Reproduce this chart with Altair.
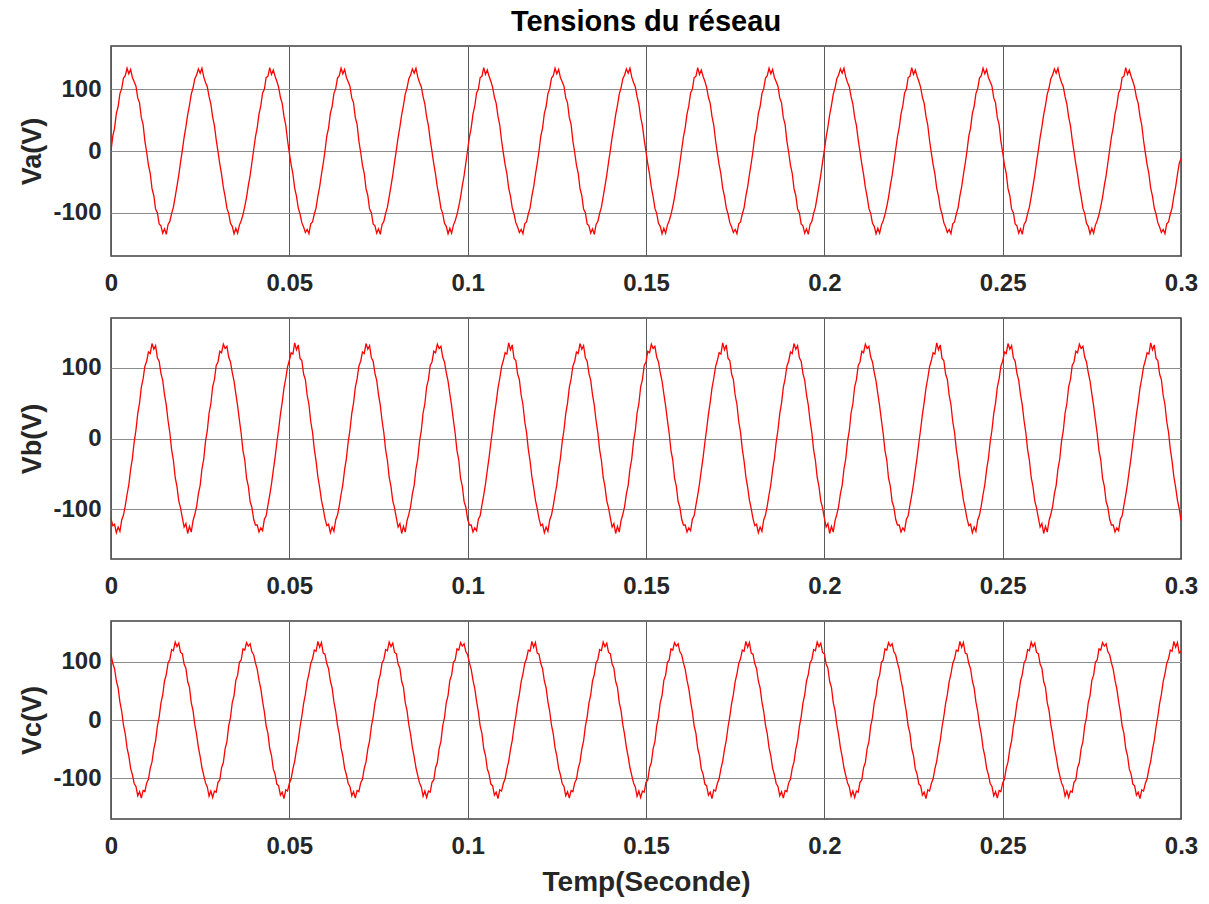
import altair as alt
import pandas as pd

va = [
    0, 24, 37, 61, 72, 93, 101, 118, 122, 134, 125, 132, 119, 112, 105, 86, 78, 54, 43, 16, -2, -23, -36, -61, -72, -94, -100, -118, -121, -133, -126, -135, -119, -114, -101, -91, -74, -57, -39, -18,
    1, 22, 39, 59, 74, 92, 102, 117, 123, 133, 126, 134, 120, 111, 104, 88, 76, 55, 41, 18, -1, -21, -38, -59, -74, -93, -101, -117, -122, -134, -125, -133, -120, -113, -103, -90, -75, -56, -40, -19,
    2, 23, 38, 60, 73, 94, 100, 119, 121, 135, 124, 131, 121, 113, 103, 87, 77, 56, 42, 17, -3, -22, -37, -60, -73, -92, -102, -116, -123, -132, -127, -134, -118, -115, -102, -92, -73, -58, -38, -20,
    0, 24, 37, 61, 72, 93, 101, 118, 122, 134, 125, 132, 119, 112, 105, 86, 78, 54, 43, 16, -2, -23, -36, -61, -72, -94, -100, -118, -121, -133, -126, -135, -119, -114, -101, -91, -74, -57, -39, -18,
    1, 22, 39, 59, 74, 92, 102, 117, 123, 133, 126, 134, 120, 111, 104, 88, 76, 55, 41, 18, -1, -21, -38, -59, -74, -93, -101, -117, -122, -134, -125, -133, -120, -113, -103, -90, -75, -56, -40, -19,
    2, 23, 38, 60, 73, 94, 100, 119, 121, 135, 124, 131, 121, 113, 103, 87, 77, 56, 42, 17, -3, -22, -37, -60, -73, -92, -102, -116, -123, -132, -127, -134, -118, -115, -102, -92, -73, -58, -38, -20,
    0, 24, 37, 61, 72, 93, 101, 118, 122, 134, 125, 132, 119, 112, 105, 86, 78, 54, 43, 16, -2, -23, -36, -61, -72, -94, -100, -118, -121, -133, -126, -135, -119, -114, -101, -91, -74, -57, -39, -18,
    1, 22, 39, 59, 74, 92, 102, 117, 123, 133, 126, 134, 120, 111, 104, 88, 76, 55, 41, 18, -1, -21, -38, -59, -74, -93, -101, -117, -122, -134, -125, -133, -120, -113, -103, -90, -75, -56, -40, -19,
    2, 23, 38, 60, 73, 94, 100, 119, 121, 135, 124, 131, 121, 113, 103, 87, 77, 56, 42, 17, -3, -22, -37, -60, -73, -92, -102, -116, -123, -132, -127, -134, -118, -115, -102, -92, -73, -58, -38, -20,
    0, 24, 37, 61, 72, 93, 101, 118, 122, 134, 125, 132, 119, 112, 105, 86, 78, 54, 43, 16, -2, -23, -36, -61, -72, -94, -100, -118, -121, -133, -126, -135, -119, -114, -101, -91, -74, -57, -39, -18,
    1, 22, 39, 59, 74, 92, 102, 117, 123, 133, 126, 134, 120, 111, 104, 88, 76, 55, 41, 18, -1, -21, -38, -59, -74, -93, -101, -117, -122, -134, -125, -133, -120, -113, -103, -90, -75, -56, -40, -19,
    2, 23, 38, 60, 73, 94, 100, 119, 121, 135, 124, 131, 121, 113, 103, 87, 77, 56, 42, 17, -3, -22, -37, -60, -73, -92, -102, -116, -123, -132, -127, -134, -118, -115, -102, -92, -73, -58, -38, -20,
    0, 24, 37, 61, 72, 93, 101, 118, 122, 134, 125, 132, 119, 112, 105, 86, 78, 54, 43, 16, -2, -23, -36, -61, -72, -94, -100, -118, -121, -133, -126, -135, -119, -114, -101, -91, -74, -57, -39, -18,
    1, 22, 39, 59, 74, 92, 102, 117, 123, 133, 126, 134, 120, 111, 104, 88, 76, 55, 41, 18, -1, -21, -38, -59, -74, -93, -101, -117, -122, -134, -125, -133, -120, -113, -103, -90, -75, -56, -40, -19,
    2, 23, 38, 60, 73, 94, 100, 119, 121, 135, 124, 131, 121, 113, 103, 87, 77, 56, 42, 17, -3, -22, -37, -60, -73, -92, -102, -116, -123, -132, -127, -134, -118, -115, -102, -92, -73, -58, -38, -20,
    -12,
]

vb = [
    -113, -123, -121, -133, -125, -131, -115, -108, -95, -79, -65, -44, -28, -5, 12, 35, 50, 72, 84, 102, 109, 122, 120, 134, 126, 131, 114, 109, 92, 82, 62, 47, 25, 8, -16, -31, -55, -68, -88, -98,
    -112, -125, -120, -134, -124, -132, -116, -107, -96, -78, -66, -43, -29, -4, 11, 36, 49, 73, 83, 103, 108, 123, 121, 133, 127, 130, 115, 108, 93, 81, 63, 46, 26, 7, -17, -30, -56, -67, -89, -97,
    -114, -122, -122, -132, -126, -130, -114, -109, -94, -80, -64, -45, -27, -6, 13, 34, 51, 71, 85, 101, 110, 121, 119, 135, 125, 132, 113, 110, 91, 83, 61, 48, 24, 9, -15, -32, -54, -69, -87, -99,
    -113, -123, -121, -133, -125, -131, -115, -108, -95, -79, -65, -44, -28, -5, 12, 35, 50, 72, 84, 102, 109, 122, 120, 134, 126, 131, 114, 109, 92, 82, 62, 47, 25, 8, -16, -31, -55, -68, -88, -98,
    -112, -125, -120, -134, -124, -132, -116, -107, -96, -78, -66, -43, -29, -4, 11, 36, 49, 73, 83, 103, 108, 123, 121, 133, 127, 130, 115, 108, 93, 81, 63, 46, 26, 7, -17, -30, -56, -67, -89, -97,
    -114, -122, -122, -132, -126, -130, -114, -109, -94, -80, -64, -45, -27, -6, 13, 34, 51, 71, 85, 101, 110, 121, 119, 135, 125, 132, 113, 110, 91, 83, 61, 48, 24, 9, -15, -32, -54, -69, -87, -99,
    -113, -123, -121, -133, -125, -131, -115, -108, -95, -79, -65, -44, -28, -5, 12, 35, 50, 72, 84, 102, 109, 122, 120, 134, 126, 131, 114, 109, 92, 82, 62, 47, 25, 8, -16, -31, -55, -68, -88, -98,
    -112, -125, -120, -134, -124, -132, -116, -107, -96, -78, -66, -43, -29, -4, 11, 36, 49, 73, 83, 103, 108, 123, 121, 133, 127, 130, 115, 108, 93, 81, 63, 46, 26, 7, -17, -30, -56, -67, -89, -97,
    -114, -122, -122, -132, -126, -130, -114, -109, -94, -80, -64, -45, -27, -6, 13, 34, 51, 71, 85, 101, 110, 121, 119, 135, 125, 132, 113, 110, 91, 83, 61, 48, 24, 9, -15, -32, -54, -69, -87, -99,
    -113, -123, -121, -133, -125, -131, -115, -108, -95, -79, -65, -44, -28, -5, 12, 35, 50, 72, 84, 102, 109, 122, 120, 134, 126, 131, 114, 109, 92, 82, 62, 47, 25, 8, -16, -31, -55, -68, -88, -98,
    -112, -125, -120, -134, -124, -132, -116, -107, -96, -78, -66, -43, -29, -4, 11, 36, 49, 73, 83, 103, 108, 123, 121, 133, 127, 130, 115, 108, 93, 81, 63, 46, 26, 7, -17, -30, -56, -67, -89, -97,
    -114, -122, -122, -132, -126, -130, -114, -109, -94, -80, -64, -45, -27, -6, 13, 34, 51, 71, 85, 101, 110, 121, 119, 135, 125, 132, 113, 110, 91, 83, 61, 48, 24, 9, -15, -32, -54, -69, -87, -99,
    -113, -123, -121, -133, -125, -131, -115, -108, -95, -79, -65, -44, -28, -5, 12, 35, 50, 72, 84, 102, 109, 122, 120, 134, 126, 131, 114, 109, 92, 82, 62, 47, 25, 8, -16, -31, -55, -68, -88, -98,
    -112, -125, -120, -134, -124, -132, -116, -107, -96, -78, -66, -43, -29, -4, 11, 36, 49, 73, 83, 103, 108, 123, 121, 133, 127, 130, 115, 108, 93, 81, 63, 46, 26, 7, -17, -30, -56, -67, -89, -97,
    -114, -122, -122, -132, -126, -130, -114, -109, -94, -80, -64, -45, -27, -6, 13, 34, 51, 71, 85, 101, 110, 121, 119, 135, 125, 132, 113, 110, 91, 83, 61, 48, 24, 9, -15, -32, -54, -69, -87, -99,
    -116,
]

vc = [
    113, 97, 88, 67, 55, 31, 15, -9, -24, -48, -62, -83, -94, -109, -114, -130, -123, -134, -121, -123, -108, -102, -83, -72, -50, -36, -11, 5, 29, 43, 67, 78, 98, 104, 121, 119, 134, 126, 132, 116,
    114, 96, 89, 66, 56, 30, 16, -8, -25, -47, -63, -82, -95, -108, -115, -131, -122, -133, -122, -124, -107, -103, -82, -73, -49, -37, -10, 4, 30, 42, 68, 77, 99, 103, 122, 120, 133, 127, 131, 117,
    112, 98, 87, 68, 54, 32, 14, -10, -23, -49, -61, -84, -93, -110, -113, -129, -124, -135, -120, -122, -109, -101, -84, -71, -51, -35, -12, 6, 28, 44, 66, 79, 97, 105, 120, 118, 135, 125, 133, 115,
    113, 97, 88, 67, 55, 31, 15, -9, -24, -48, -62, -83, -94, -109, -114, -130, -123, -134, -121, -123, -108, -102, -83, -72, -50, -36, -11, 5, 29, 43, 67, 78, 98, 104, 121, 119, 134, 126, 132, 116,
    114, 96, 89, 66, 56, 30, 16, -8, -25, -47, -63, -82, -95, -108, -115, -131, -122, -133, -122, -124, -107, -103, -82, -73, -49, -37, -10, 4, 30, 42, 68, 77, 99, 103, 122, 120, 133, 127, 131, 117,
    112, 98, 87, 68, 54, 32, 14, -10, -23, -49, -61, -84, -93, -110, -113, -129, -124, -135, -120, -122, -109, -101, -84, -71, -51, -35, -12, 6, 28, 44, 66, 79, 97, 105, 120, 118, 135, 125, 133, 115,
    113, 97, 88, 67, 55, 31, 15, -9, -24, -48, -62, -83, -94, -109, -114, -130, -123, -134, -121, -123, -108, -102, -83, -72, -50, -36, -11, 5, 29, 43, 67, 78, 98, 104, 121, 119, 134, 126, 132, 116,
    114, 96, 89, 66, 56, 30, 16, -8, -25, -47, -63, -82, -95, -108, -115, -131, -122, -133, -122, -124, -107, -103, -82, -73, -49, -37, -10, 4, 30, 42, 68, 77, 99, 103, 122, 120, 133, 127, 131, 117,
    112, 98, 87, 68, 54, 32, 14, -10, -23, -49, -61, -84, -93, -110, -113, -129, -124, -135, -120, -122, -109, -101, -84, -71, -51, -35, -12, 6, 28, 44, 66, 79, 97, 105, 120, 118, 135, 125, 133, 115,
    113, 97, 88, 67, 55, 31, 15, -9, -24, -48, -62, -83, -94, -109, -114, -130, -123, -134, -121, -123, -108, -102, -83, -72, -50, -36, -11, 5, 29, 43, 67, 78, 98, 104, 121, 119, 134, 126, 132, 116,
    114, 96, 89, 66, 56, 30, 16, -8, -25, -47, -63, -82, -95, -108, -115, -131, -122, -133, -122, -124, -107, -103, -82, -73, -49, -37, -10, 4, 30, 42, 68, 77, 99, 103, 122, 120, 133, 127, 131, 117,
    112, 98, 87, 68, 54, 32, 14, -10, -23, -49, -61, -84, -93, -110, -113, -129, -124, -135, -120, -122, -109, -101, -84, -71, -51, -35, -12, 6, 28, 44, 66, 79, 97, 105, 120, 118, 135, 125, 133, 115,
    113, 97, 88, 67, 55, 31, 15, -9, -24, -48, -62, -83, -94, -109, -114, -130, -123, -134, -121, -123, -108, -102, -83, -72, -50, -36, -11, 5, 29, 43, 67, 78, 98, 104, 121, 119, 134, 126, 132, 116,
    114, 96, 89, 66, 56, 30, 16, -8, -25, -47, -63, -82, -95, -108, -115, -131, -122, -133, -122, -124, -107, -103, -82, -73, -49, -37, -10, 4, 30, 42, 68, 77, 99, 103, 122, 120, 133, 127, 131, 117,
    112, 98, 87, 68, 54, 32, 14, -10, -23, -49, -61, -84, -93, -110, -113, -129, -124, -135, -120, -122, -109, -101, -84, -71, -51, -35, -12, 6, 28, 44, 66, 79, 97, 105, 120, 118, 135, 125, 133, 115,
    118,
]

SAMPLE_STEP = 0.0005
t = [round(i * SAMPLE_STEP, 4) for i in range(len(va))]

x_ticks = [0, 0.05, 0.1, 0.15, 0.2, 0.25, 0.3]
y_ticks = [-100, 0, 100]

df = pd.DataFrame({"t": t, "Va": va, "Vb": vb, "Vc": vc})

FONT = "Liberation Sans"
TXT = "#262626"


def panel(col, ytitle, h, xtitle):
    xaxis = alt.Axis(
        values=x_ticks, labelExpr="datum.value + ''", title=xtitle,
        grid=True, gridColor="#5a5a5a", gridWidth=1, ticks=False, domain=False,
        labelFlush=False, labelOverlap=False, labelBound=False, labelPadding=15,
        labelFont=FONT, labelFontSize=24, labelFontWeight="bold", labelColor=TXT,
        titleFont=FONT, titleFontSize=28, titleFontWeight="bold", titleColor=TXT,
        titlePadding=10,
    )
    yaxis = alt.Axis(
        values=y_ticks, labelExpr="datum.value + ''", title=ytitle,
        grid=True, gridColor="#8c8c8c", gridWidth=1, ticks=False, domain=False,
        labelFlush=False, labelOverlap=False, labelPadding=10,
        labelFont=FONT, labelFontSize=24, labelFontWeight="bold", labelColor=TXT,
        titleFont=FONT, titleFontSize=27, titleFontWeight="bold", titleColor=TXT,
        titlePadding=6,
    )
    return alt.Chart(df).mark_line(color="#ff0000", strokeWidth=1.3, clip=True).encode(
        x=alt.X("t:Q", scale=alt.Scale(domain=[0, 0.3], nice=False, zero=False), axis=xaxis),
        y=alt.Y(f"{col}:Q", scale=alt.Scale(domain=[-170, 170], nice=False, zero=False), axis=yaxis),
    ).properties(width=1070, height=h)


p1 = panel("Va", "Va(V)", 210, None)
p2 = panel("Vb", "Vb(V)", 241, None)
p3 = panel("Vc", "Vc(V)", 198, "Temp(Seconde)")

chart = alt.vconcat(
    p1, p2, p3, spacing=62, bounds="flush",
    title=alt.TitleParams(
        "Tensions du réseau", font=FONT, fontSize=29, fontWeight="bold",
        color="#000000", anchor="middle", frame="group", offset=8,
    ),
).properties(
    padding={"left": 18, "top": 8, "right": 10, "bottom": 4},
    background="#ffffff",
).configure_view(stroke="#404040", strokeWidth=1.5)

chart.save("out.html", embed_options={"renderer": "svg", "actions": False})
